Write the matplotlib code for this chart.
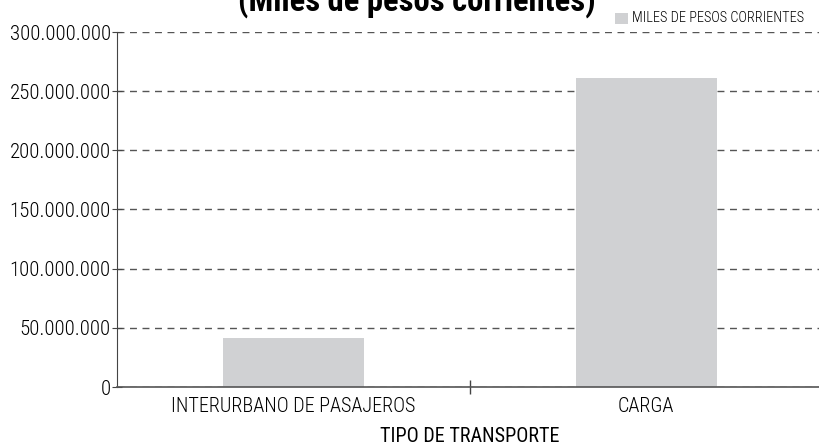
import matplotlib
matplotlib.use("Agg")
import matplotlib.pyplot as plt
from matplotlib.ticker import FuncFormatter, FixedLocator
from matplotlib.patches import Rectangle

categories = ["INTERURBANO DE PASAJEROS", "CARGA"]
values = [41500000, 261000000]
yticks = [0, 50000000, 100000000, 150000000, 200000000, 250000000, 300000000]
title = "(Miles de pesos corrientes)"
legend_label = "MILES DE PESOS CORRIENTES"
xlabel = "TIPO DE TRANSPORTE"

plt.rcParams['font.family'] = ['Roboto Condensed', 'DejaVu Sans']
plt.rcParams['font.weight'] = 300

fig = plt.figure(figsize=(8.2, 4.48), dpi=100)
ax = fig.add_axes([117/820, 1-387/448, 1-117/820 + 0.003, (387-32)/448])

bar_color = "#d0d1d3"
x = list(range(len(categories)))
ax.bar(x, values, width=0.4, color=bar_color, zorder=2)
ax.set_xlim(-0.5, 1.5)
ax.set_ylim(0, 300000000)

ax.set_yticks(yticks)
ax.yaxis.set_major_formatter(FuncFormatter(lambda v, p: f"{int(v):,}".replace(",", ".")))
ax.set_xticks(x)
ax.set_xticklabels(categories)
ax.xaxis.set_minor_locator(FixedLocator([0.5]))
ax.tick_params(axis='x', which='major', length=0, labelsize=14.5, pad=7)
ax.tick_params(axis='x', which='minor', length=10, direction='inout', color='#444444', width=1)
ax.tick_params(axis='y', length=7, direction='inout', labelsize=15, pad=1, color='#444444')

ax.grid(axis='y', linestyle=(0, (5, 4)), color='#555555', linewidth=1, zorder=1)
for s in ['top', 'right']:
    ax.spines[s].set_visible(False)
ax.spines['left'].set_color('#444444')
ax.spines['bottom'].set_color('#555555')
ax.spines['bottom'].set_linewidth(1.2)

ax.set_xlabel(xlabel, fontsize=14.5, labelpad=8)

fig.text(417/820, 1-11/448, title, ha='center', va='baseline', fontsize=23.5, fontweight=900)

fig.patches.append(Rectangle((615/820, 1-24/448), 13/820, 11/448, transform=fig.transFigure,
                             facecolor=bar_color, edgecolor='none'))
fig.text(632/820, 1-18.5/448, legend_label, ha='left', va='center', fontsize=10.3)

fig.savefig("out.png", dpi=100)
